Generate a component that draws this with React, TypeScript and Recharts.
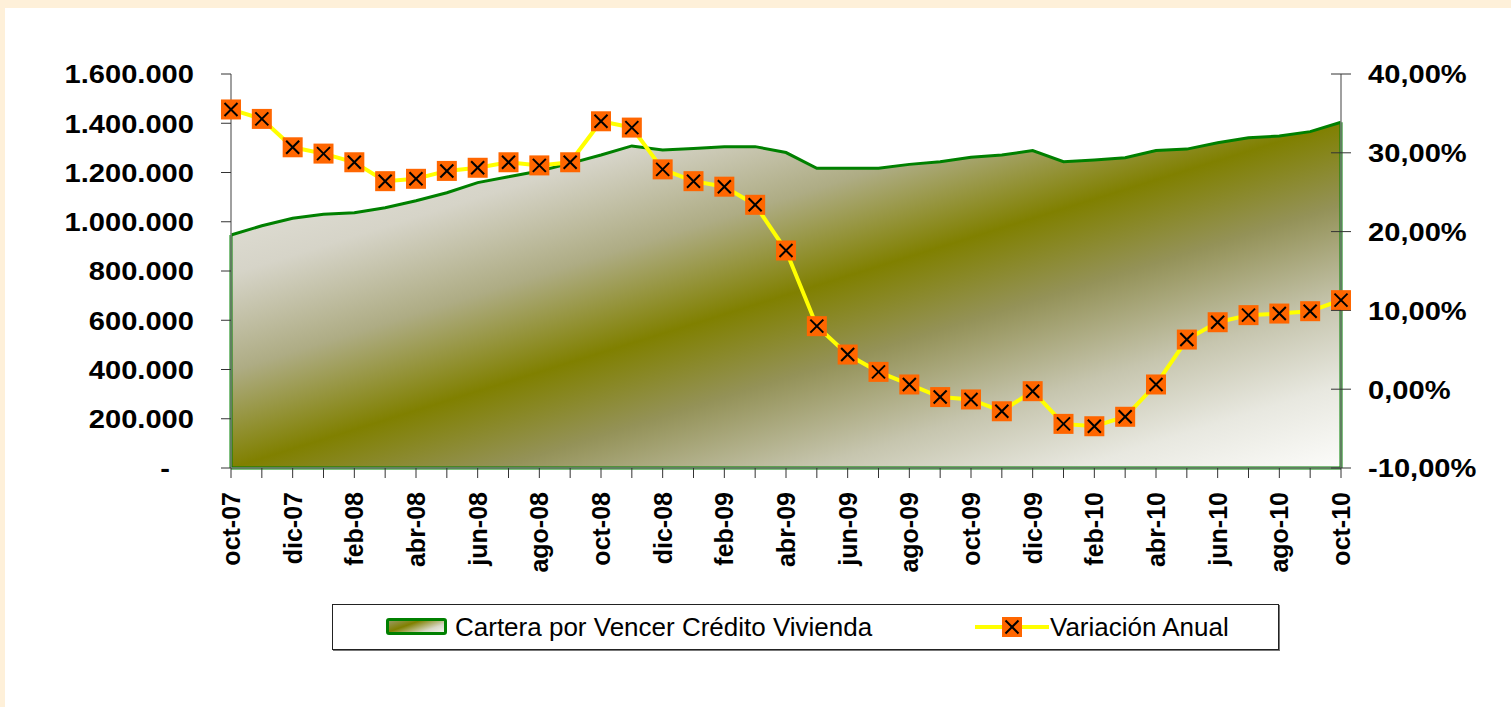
import React from "react";
import {
  ComposedChart,
  Area,
  Line,
  XAxis,
  YAxis,
  ReferenceLine,
} from "recharts";

const months = [
  "oct-07", "nov-07", "dic-07", "ene-08", "feb-08", "mar-08", "abr-08", "may-08",
  "jun-08", "jul-08", "ago-08", "sep-08", "oct-08", "nov-08", "dic-08", "ene-09",
  "feb-09", "mar-09", "abr-09", "may-09", "jun-09", "jul-09", "ago-09", "sep-09",
  "oct-09", "nov-09", "dic-09", "ene-10", "feb-10", "mar-10", "abr-10", "may-10",
  "jun-10", "jul-10", "ago-10", "sep-10", "oct-10",
];

// Cartera por Vencer Crédito Vivienda
const cartera = [
  946000, 984000, 1014000, 1030000, 1037000, 1057000, 1085000, 1118000,
  1159000, 1183000, 1206000, 1237000, 1271000, 1308000, 1291000, 1297000,
  1305000, 1305000, 1281000, 1217000, 1217000, 1217000, 1233000, 1244000,
  1262000, 1271000, 1289000, 1244000, 1251000, 1260000, 1289000, 1295000,
  1321000, 1341000, 1348000, 1366000, 1404000,
];

// Variación Anual (%)
const variacion = [
  35.5, 34.3, 30.7, 29.9, 28.8, 26.4, 26.7, 27.7, 28.1, 28.8, 28.4, 28.8,
  34.0, 33.2, 27.9, 26.4, 25.7, 23.4, 17.6, 8.0, 4.4, 2.2, 0.6, -1.0,
  -1.3, -2.8, -0.25, -4.4, -4.7, -3.5, 0.6, 6.3, 8.5, 9.4, 9.6, 9.9, 11.3,
];

const leftTicks = [0, 200000, 400000, 600000, 800000, 1000000, 1200000, 1400000, 1600000];
const rightTicks = [-10, 0, 10, 20, 30, 40];

const data = months.map((mes, i) => ({
  mes,
  cartera: cartera[i],
  variacion: variacion[i],
}));

const FONT = "'Liberation Sans', Arial, sans-serif";
const GREEN = "#008000";

const fmtMiles = (v: number) =>
  v === 0 ? "-" : v.toString().replace(/\B(?=(\d{3})+(?!\d))/g, ".");
const fmtPct = (v: number) => v.toFixed(2).replace(".", ",") + "%";

const LeftTick = (props: any) => {
  const { x, y, payload } = props;
  const dx = payload.value === 0 ? -24 : 0;
  return (
    <g transform={`translate(${x + dx},${y})`}>
      <text
        transform="scale(1.12,1)"
        textAnchor="end"
        dy="0.36em"
        fontFamily={FONT}
        fontWeight="bold"
        fontSize={26}
        fill="#000"
      >
        {fmtMiles(payload.value)}
      </text>
    </g>
  );
};

const RightTick = (props: any) => {
  const { x, y, payload } = props;
  return (
    <g>
      <line x1={x - 37} x2={x - 27} y1={y} y2={y} stroke="#333" strokeWidth={1} />
      <g transform={`translate(${x},${y})`}>
        <text
          transform="scale(1.12,1)"
          textAnchor="start"
          dy="0.36em"
          fontFamily={FONT}
          fontWeight="bold"
          fontSize={26}
          fill="#000"
        >
          {fmtPct(payload.value)}
        </text>
      </g>
    </g>
  );
};

const MonthTick = (props: any) => {
  const { x, y, payload } = props;
  const idx = months.indexOf(payload.value);
  if (idx % 2 !== 0) return <g />;
  return (
    <text
      x={x}
      y={y}
      transform={`rotate(-90, ${x}, ${y})`}
      textAnchor="end"
      dy="0.36em"
      fontFamily={FONT}
      fontWeight="bold"
      fontSize={25}
      fill="#000"
    >
      {payload.value}
    </text>
  );
};

const MarkerDot = (props: any) => {
  const { cx, cy, index } = props;
  if (cx == null || cy == null) return <g key={index} />;
  return (
    <g key={index}>
      <rect x={cx - 10} y={cy - 10} width={20} height={20} fill="#FF6600" />
      <line x1={cx - 6.5} y1={cy - 6.5} x2={cx + 6.5} y2={cy + 6.5} stroke="#000" strokeWidth={2} />
      <line x1={cx - 6.5} y1={cy + 6.5} x2={cx + 6.5} y2={cy - 6.5} stroke="#000" strokeWidth={2} />
    </g>
  );
};

export default function App() {
  const first = months[0];
  const last = months[months.length - 1];
  return (
    <div
      style={{
        position: "absolute",
        left: 0,
        top: 0,
        width: 1511,
        height: 707,
        background: "#FEF0D9",
        overflow: "hidden",
      }}
    >
      <div
        style={{
          position: "absolute",
          left: 5,
          top: 8,
          right: 0,
          bottom: 0,
          background: "#fff",
        }}
      />
      <div style={{ position: "absolute", left: 0, top: 0 }}>
        <ComposedChart
          width={1511}
          height={707}
          data={data}
          margin={{ top: 74, right: 0, bottom: 0, left: 0 }}
        >
          <defs>
            <linearGradient id="areaGrad" x1="0" y1="0" x2="1" y2="1">
              <stop offset="0%" stopColor="#ecebe5" />
              <stop offset="22%" stopColor="#d6d4c8" />
              <stop offset="36%" stopColor="#aeac84" />
              <stop offset="50%" stopColor="#808000" />
              <stop offset="62%" stopColor="#949258" />
              <stop offset="76%" stopColor="#c6c5ae" />
              <stop offset="88%" stopColor="#e8e8e0" />
              <stop offset="100%" stopColor="#fcfcfa" />
            </linearGradient>
          </defs>
          <XAxis
            dataKey="mes"
            scale="point"
            interval={0}
            height={239}
            tickSize={10}
            tickMargin={14}
            axisLine={{ stroke: "#808080", strokeWidth: 1.5 }}
            tickLine={{ stroke: "#333" }}
            tick={<MonthTick />}
          />
          <YAxis
            yAxisId="left"
            orientation="left"
            width={231}
            domain={[0, 1600000]}
            ticks={leftTicks}
            tickSize={10}
            tickMargin={27}
            axisLine={{ stroke: "#808080", strokeWidth: 1.5 }}
            tickLine={{ stroke: "#333" }}
            tick={<LeftTick />}
          />
          <YAxis
            yAxisId="right"
            orientation="right"
            width={170}
            domain={[-10, 40]}
            ticks={rightTicks}
            tickSize={10}
            tickMargin={17}
            axisLine={{ stroke: "#808080", strokeWidth: 1.5 }}
            tickLine={{ stroke: "#333" }}
            tick={<RightTick />}
          />
          <Area
            yAxisId="left"
            type="linear"
            dataKey="cartera"
            stroke={GREEN}
            strokeWidth={3}
            fill="url(#areaGrad)"
            fillOpacity={1}
            isAnimationActive={false}
          />
          <ReferenceLine
            yAxisId="left"
            segment={[{ x: first, y: 0 }, { x: first, y: cartera[0] }]}
            stroke={GREEN}
            strokeWidth={3}
          />
          <ReferenceLine
            yAxisId="left"
            segment={[{ x: last, y: 0 }, { x: last, y: cartera[cartera.length - 1] }]}
            stroke={GREEN}
            strokeWidth={3}
          />
          <ReferenceLine
            yAxisId="left"
            segment={[{ x: first, y: 0 }, { x: last, y: 0 }]}
            stroke={GREEN}
            strokeWidth={3}
          />
          <Line
            yAxisId="right"
            type="linear"
            dataKey="variacion"
            stroke="#FFFF00"
            strokeWidth={4}
            dot={<MarkerDot />}
            activeDot={false}
            isAnimationActive={false}
          />
        </ComposedChart>
      </div>
      <div
        style={{
          position: "absolute",
          left: 332,
          top: 604,
          width: 947,
          height: 46,
          boxSizing: "border-box",
          border: "1px solid #222",
          boxShadow: "1px 1px 0 #777",
          background: "#fff",
          fontFamily: FONT,
          fontSize: 26,
          color: "#000",
        }}
      >
        <div
          style={{
            position: "absolute",
            left: 53,
            top: 13,
            width: 61,
            height: 17,
            boxSizing: "border-box",
            border: `3px solid ${GREEN}`,
            borderRadius: 3,
            background: "linear-gradient(160deg, #9a9860 0%, #808000 35%, #d8d8c8 75%, #f4f4ee 100%)",
          }}
        />
        <div style={{ position: "absolute", left: 122, top: 0, lineHeight: "44px", whiteSpace: "nowrap" }}>
          Cartera por Vencer Crédito Vivienda
        </div>
        <svg style={{ position: "absolute", left: 642, top: 0 }} width={74} height={44}>
          <line x1={0} y1={22} x2={74} y2={22} stroke="#FFFF00" strokeWidth={4} />
          <rect x={27} y={12} width={20} height={20} fill="#FF6600" />
          <line x1={30.5} y1={15.5} x2={43.5} y2={28.5} stroke="#000" strokeWidth={2} />
          <line x1={30.5} y1={28.5} x2={43.5} y2={15.5} stroke="#000" strokeWidth={2} />
        </svg>
        <div style={{ position: "absolute", left: 717, top: 0, lineHeight: "44px", whiteSpace: "nowrap" }}>
          Variación Anual
        </div>
      </div>
    </div>
  );
}
